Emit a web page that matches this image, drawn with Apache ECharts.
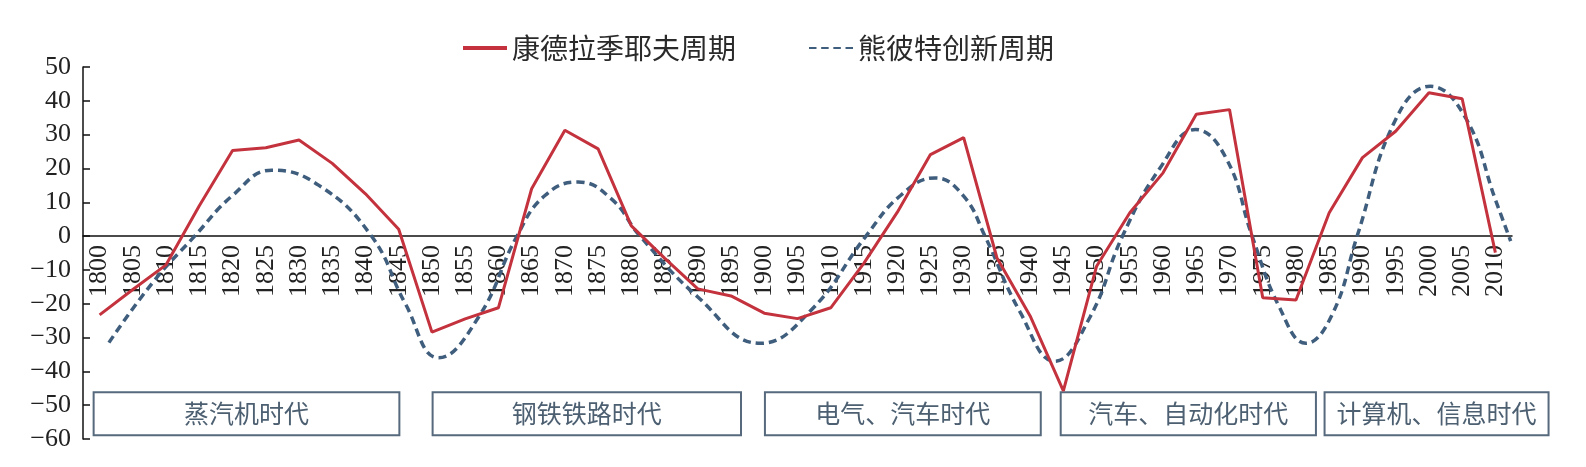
<!DOCTYPE html>
<html>
<head>
<meta charset="utf-8">
<script src="https://cdn.jsdelivr.net/npm/echarts@6/dist/echarts.min.js"></script>
<style>
  html, body { margin: 0; padding: 0; background: #fff; }
  #main { width: 1586px; height: 467px; }
</style>
</head>
<body>
<div id="main"></div>
<script>
// x-axis tick labels, one every 5 years
const years = [];
for (let y = 1800; y <= 2010; y += 5) years.push(String(y));

// Kondratiev cycle, one value per label above
const kondratiev = [
  -23.3, -15.8, -8.5, 9, 25.3, 26.1, 28.4, 21.5, 12.5, 2.0,
  -28.4, -24.5, -21.2, 14.0, 31.3, 25.8, 3.0, -6.5, -15.6, -17.7,
  -22.8, -24.4, -21.2, -8, 7, 24.1, 29.1, -6.4, -23.6, -45.8,
  -8.9, 6.9, 18.7, 36.0, 37.4, -18.2, -18.9, 6.9, 23.2, 31,
  42.4, 40.6, -4.9
];

// Schumpeter innovation cycle (smooth curve), year / value
const schumpeterYears = [
  1801.4, 1808, 1814.3, 1820, 1825.9, 1833, 1840.9, 1846, 1851, 1857,
  1862.8, 1867, 1872, 1877, 1881.3, 1890, 1899.4, 1907, 1915.3, 1920.5,
  1925.7, 1930, 1933.2, 1938.5, 1943.7, 1949, 1953.9, 1959.5, 1964.9, 1969.5,
  1973.4, 1977.5, 1981.5, 1985.5, 1989.2, 1995, 2000.2, 2005.5, 2010, 2012.3
];
const schumpeter = [
  -31.5, -13.7, 0, 12, 19.5, 15, 0, -20, -36, -24,
  0, 12, 16, 11, 0, -18, -31.7, -22, 0, 12,
  17.2, 11.8, 0, -22.5, -37, -24, 0, 20, 31.5, 23,
  0, -21, -31.7, -23, 0, 34.5, 44.3, 35, 10.8, -1.5
];

// technology eras drawn as boxes under the curves
const eraNames = ['蒸汽机时代', '钢铁铁路时代', '电气、汽车时代', '汽车、自动化时代', '计算机、信息时代'];
const eraStart = [1799.1, 1850.1, 1900.1, 1944.6, 1984.3];
const eraEnd = [1845.1, 1896.5, 1941.6, 1983.0, 2018.0];
const eraTop = -46.2;
const eraBottom = -58.9;

const yMin = -60;
const yMax = 50;

const serif = '"Liberation Serif", "Times New Roman", serif';
const cjk = '"Noto Sans CJK SC", sans-serif';

const W = 1586, H = 467;
const grid = { left: 83, right: 74, top: 67, bottom: 28 };
// move the category axis (line, ticks and labels) up to y = 0
const zeroOffset = -(H - grid.top - grid.bottom) * (0 - yMin) / (yMax - yMin);

const chart = echarts.init(document.getElementById('main'));

chart.setOption({
  backgroundColor: '#fff',
  animation: false,
  legend: {
    data: [
      { name: '康德拉季耶夫周期', icon: 'rect' },
      { name: '熊彼特创新周期', icon: 'path://M0,0h8v2h-8z M13,0h8v2h-8z M26,0h8v2h-8z M39,0h8v2h-8z' }
    ],
    left: 458,
    top: 29,
    itemWidth: 44,
    itemHeight: 4,
    itemGap: 73,
    textStyle: { fontSize: 28, fontFamily: cjk, color: '#2a2a2a' }
  },
  grid: Object.assign({ outerBoundsMode: 'none' }, grid),
  xAxis: [
    {
      type: 'category',
      data: years,
      boundaryGap: true,
      offset: zeroOffset,
      axisLine: { onZero: false, lineStyle: { color: '#111', width: 1.5 } },
      axisTick: { inside: true, length: 6, lineStyle: { color: '#111', width: 1.5 } },
      axisLabel: {
        rotate: 90,
        interval: 0,
        margin: 9,
        fontSize: 26,
        fontFamily: serif,
        color: '#222'
      },
      splitLine: { show: false },
      z: 1
    },
    {
      type: 'value',
      position: 'top',
      min: 1797.5,
      max: 2012.5,
      show: false
    }
  ],
  yAxis: {
    type: 'value',
    min: yMin,
    max: yMax,
    interval: 10,
    axisLine: { show: true, lineStyle: { color: '#111', width: 1.5 } },
    axisTick: { show: true, inside: true, length: 7, lineStyle: { color: '#111', width: 1.5 } },
    splitLine: { show: false },
    axisLabel: {
      margin: 12,
      fontSize: 26,
      fontFamily: serif,
      color: '#222',
      formatter: v => (v < 0 ? '\u2212' + Math.abs(v) : String(v))
    }
  },
  series: [
    {
      name: '康德拉季耶夫周期',
      type: 'line',
      xAxisIndex: 1,
      symbol: 'none',
      z: 3,
      lineStyle: { color: '#c3323d', width: 3 },
      itemStyle: { color: '#c3323d' },
      data: kondratiev.map((v, i) => [Number(years[i]), v])
    },
    {
      name: '熊彼特创新周期',
      type: 'line',
      xAxisIndex: 1,
      symbol: 'none',
      smooth: 0.45,
      z: 2,
      lineStyle: { color: '#3f5d7c', width: 3.5, type: [8, 5] },
      itemStyle: { color: '#3f5d7c' },
      data: schumpeter.map((v, i) => [schumpeterYears[i], v])
    },
    {
      name: 'eras',
      type: 'custom',
      xAxisIndex: 1,
      silent: true,
      z: 1,
      data: eraNames.map((n, i) => [eraStart[i], eraEnd[i], eraTop, eraBottom]),
      renderItem: (params, api) => {
        const p1 = api.coord([api.value(0), api.value(2)]);
        const p2 = api.coord([api.value(1), api.value(3)]);
        return {
          type: 'group',
          children: [
            {
              type: 'rect',
              shape: { x: p1[0], y: p1[1], width: p2[0] - p1[0], height: p2[1] - p1[1] },
              style: { fill: '#fff', stroke: '#56697d', lineWidth: 2 }
            },
            {
              type: 'text',
              style: {
                text: eraNames[params.dataIndex],
                x: (p1[0] + p2[0]) / 2,
                y: (p1[1] + p2[1]) / 2,
                align: 'center',
                verticalAlign: 'middle',
                fontSize: 25,
                fontFamily: cjk,
                fill: '#4d6072'
              }
            }
          ]
        };
      }
    }
  ]
});

window.onresize = () => {
  chart.resize();
};
</script>
</body>
</html>
